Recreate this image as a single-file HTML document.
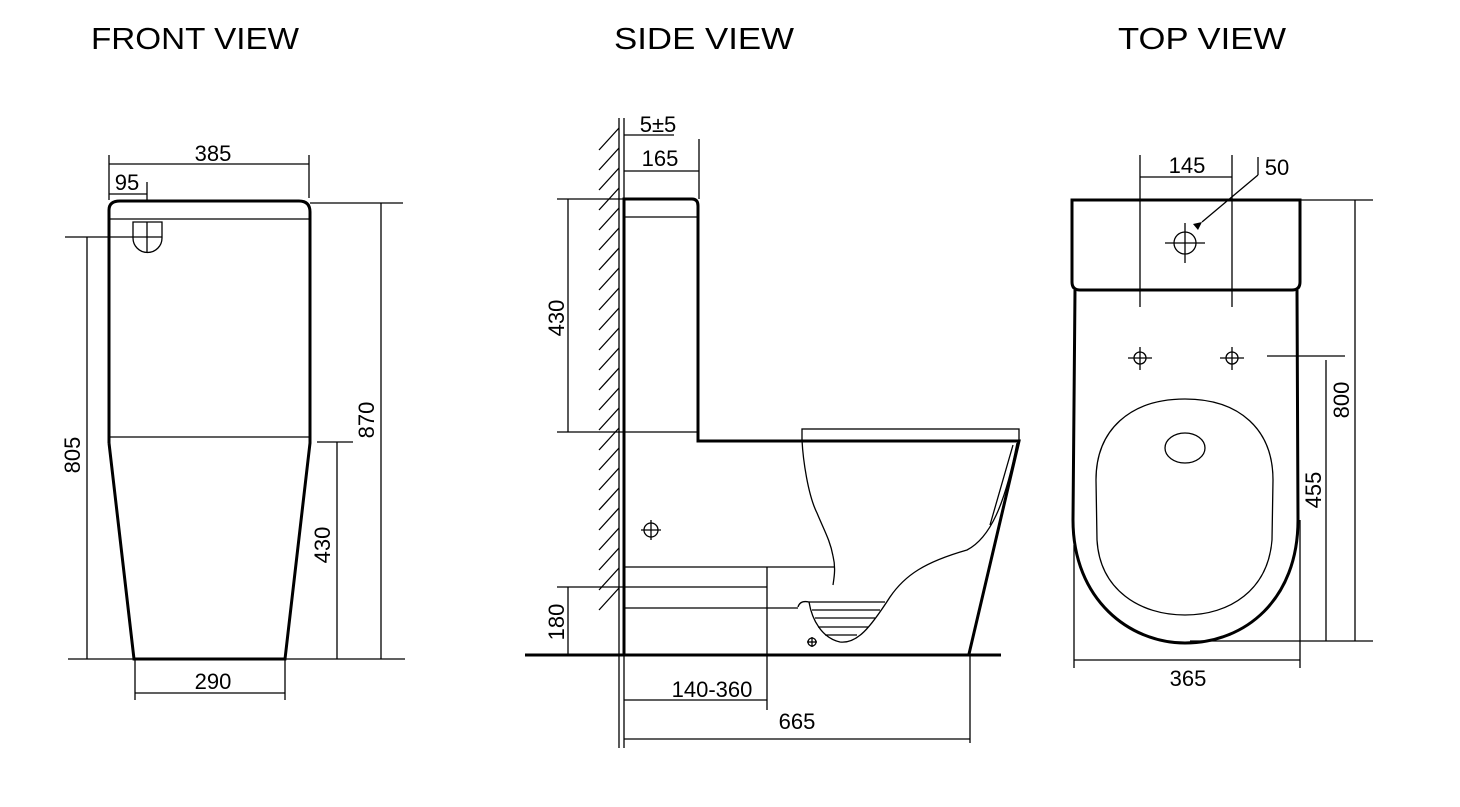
<!DOCTYPE html>
<html><head><meta charset="utf-8"><style>
html,body{margin:0;padding:0;background:#fff;}
svg{display:block;}
text{font-family:"Liberation Sans",Arial,sans-serif;fill:#000;}
.t{font-size:31px;}
.d{font-size:22px;}
</style></head><body>
<svg width="1460" height="807" viewBox="0 0 1460 807" xmlns="http://www.w3.org/2000/svg">
<g fill="none" stroke="#000">
<text class="t" x="195" y="49" text-anchor="middle" stroke="none" textLength="208" lengthAdjust="spacingAndGlyphs">FRONT VIEW</text>
<text class="t" x="704" y="49" text-anchor="middle" stroke="none" textLength="180" lengthAdjust="spacingAndGlyphs">SIDE VIEW</text>
<text class="t" x="1202" y="49" text-anchor="middle" stroke="none" textLength="168" lengthAdjust="spacingAndGlyphs">TOP VIEW</text>

<!-- FRONT VIEW -->
<g stroke-width="1.3">
<line x1="109" y1="164" x2="309" y2="164"/>
<line x1="109" y1="155" x2="109" y2="200"/>
<line x1="309" y1="155" x2="309" y2="198"/>
<line x1="109" y1="194" x2="147" y2="194"/>
<line x1="147" y1="182" x2="147" y2="200"/>
<line x1="65" y1="237" x2="133" y2="237"/>
<line x1="87" y1="237" x2="87" y2="659"/>
<line x1="310" y1="203" x2="403" y2="203"/>
<line x1="381" y1="203" x2="381" y2="659"/>
<line x1="317" y1="442" x2="353" y2="442"/>
<line x1="337" y1="442" x2="337" y2="659"/>
<line x1="68" y1="659" x2="405" y2="659"/>
<line x1="135" y1="659" x2="135" y2="700"/>
<line x1="285" y1="659" x2="285" y2="700"/>
<line x1="135" y1="693" x2="285" y2="693"/>
<line x1="110" y1="219" x2="309" y2="219"/>
<line x1="110" y1="437" x2="309" y2="437"/>
<path d="M133 222 H162 V238 A14.5 14.5 0 0 1 133 238 Z"/>
<line x1="147" y1="222" x2="147" y2="253"/>
<line x1="133" y1="237" x2="162" y2="237"/>
</g>
<path d="M109 443 V210 Q109 201 120 201 H299 Q310 201 310 212 V443 L285 659 H134 L109 443" stroke-width="3"/>
<text class="d" x="213" y="161" text-anchor="middle" stroke="none">385</text>
<text class="d" x="127" y="190" text-anchor="middle" stroke="none">95</text>
<text class="d" x="213" y="689" text-anchor="middle" stroke="none">290</text>
<text class="d" transform="translate(80,455) rotate(-90)" text-anchor="middle" stroke="none">805</text>
<text class="d" transform="translate(374,420) rotate(-90)" text-anchor="middle" stroke="none">870</text>
<text class="d" transform="translate(330,545) rotate(-90)" text-anchor="middle" stroke="none">430</text>

<!-- SIDE VIEW -->
<g stroke-width="1.3">
<line x1="619" y1="118" x2="619" y2="748"/>
<path d="M599 150 L619 128 M599 170 L619 148 M599 190 L619 168 M599 210 L619 188 M599 230 L619 208 M599 250 L619 228 M599 270 L619 248 M599 290 L619 268 M599 310 L619 288 M599 330 L619 308 M599 350 L619 328 M599 370 L619 348 M599 390 L619 368 M599 410 L619 388 M599 430 L619 408 M599 450 L619 428 M599 470 L619 448 M599 490 L619 468 M599 510 L619 488 M599 530 L619 508 M599 550 L619 528 M599 570 L619 548 M599 590 L619 568 M599 610 L619 588"/>
<line x1="624" y1="135" x2="674" y2="135"/>
<line x1="624" y1="171" x2="699" y2="171"/>
<line x1="699" y1="139" x2="699" y2="199"/>
<line x1="557" y1="199" x2="624" y2="199"/>
<line x1="568" y1="199" x2="568" y2="432"/>
<line x1="557" y1="432" x2="698" y2="432"/>
<line x1="624" y1="217" x2="697" y2="217"/>
<rect x="802" y="429" width="217" height="12"/>
<line x1="1013" y1="445" x2="990" y2="525"/>
<path d="M802 440 C803 460 808 495 817 513 C824 530 830 540 833 556 C836 568 834 578 833 585"/>
<path d="M798 607 Q800 600 809 602 C812 620 822 638 840 642 C857 644 870 628 890 597 C905 575 925 562 967 550 C990 538 1005 505 1017 443"/>
<path d="M809 602 H885 M812 610 H880 M815 618 H875 M818 627 H868 M825 635 H857"/>
<line x1="624" y1="567" x2="835" y2="567"/>
<line x1="767" y1="567" x2="767" y2="710"/>
<line x1="557" y1="587" x2="767" y2="587"/>
<line x1="624" y1="608" x2="798" y2="608"/>
<line x1="568" y1="587" x2="568" y2="655"/>
<circle cx="651" cy="530" r="7"/>
<line x1="641" y1="530" x2="661" y2="530"/><line x1="651" y1="520" x2="651" y2="540"/>
<circle cx="812" cy="642" r="4"/>
<line x1="807" y1="642" x2="817" y2="642"/><line x1="812" y1="637" x2="812" y2="647"/>
<line x1="624" y1="700" x2="767" y2="700"/>
<line x1="624" y1="739" x2="970" y2="739"/>
<line x1="970" y1="655" x2="970" y2="743"/>
<line x1="624" y1="118" x2="624" y2="199"/>
<line x1="624" y1="655" x2="624" y2="748"/>
</g>
<path d="M624 655 V199 H692 Q698 199 698 206 V441 H1019 L969 654" stroke-width="3"/>
<line x1="525" y1="655" x2="1001" y2="655" stroke-width="3"/>
<text class="d" x="658" y="132" text-anchor="middle" stroke="none">5±5</text>
<text class="d" x="660" y="166" text-anchor="middle" stroke="none">165</text>
<text class="d" x="712" y="697" text-anchor="middle" stroke="none">140-360</text>
<text class="d" x="797" y="729" text-anchor="middle" stroke="none">665</text>
<text class="d" transform="translate(564,318) rotate(-90)" text-anchor="middle" stroke="none">430</text>
<text class="d" transform="translate(564,622) rotate(-90)" text-anchor="middle" stroke="none">180</text>

<!-- TOP VIEW -->
<g stroke-width="1.3">
<line x1="1140" y1="177" x2="1232" y2="177"/>
<line x1="1140" y1="155" x2="1140" y2="307"/>
<line x1="1232" y1="155" x2="1232" y2="307"/>
<line x1="1258" y1="157" x2="1258" y2="175"/>
<line x1="1258" y1="175" x2="1202" y2="222"/>
<circle cx="1185" cy="243" r="11"/>
<line x1="1165" y1="243" x2="1205" y2="243"/><line x1="1185" y1="223" x2="1185" y2="263"/>
<circle cx="1140" cy="358" r="6"/><line x1="1128" y1="358" x2="1152" y2="358"/><line x1="1140" y1="347" x2="1140" y2="370"/>
<circle cx="1232" cy="358" r="6"/><line x1="1220" y1="358" x2="1244" y2="358"/><line x1="1232" y1="347" x2="1232" y2="370"/>
<line x1="1267" y1="356" x2="1345" y2="356"/>
<line x1="1326" y1="360" x2="1326" y2="641"/>
<line x1="1287" y1="200" x2="1373" y2="200"/>
<line x1="1355" y1="200" x2="1355" y2="641"/>
<line x1="1190" y1="641" x2="1373" y2="641"/>
<path d="M1185 399 C1240 399 1273 430 1273 480 L1272 540 C1268 590 1230 615 1185 615 C1140 615 1100 590 1097 540 L1096 480 C1096 430 1130 399 1185 399 Z"/>
<ellipse cx="1185" cy="448" rx="20" ry="15"/>
<line x1="1074" y1="660" x2="1300" y2="660"/>
<line x1="1074" y1="545" x2="1074" y2="668"/>
<line x1="1300" y1="520" x2="1300" y2="668"/>
</g>
<path d="M1202 222 L1193 224 L1198 230 Z" fill="#000" stroke="none"/>
<path d="M1072 200 H1300 V282 Q1300 290 1292 290 H1080 Q1072 290 1072 282 Z" stroke-width="3"/>
<path d="M1075 290 L1073 520 C1073 600 1130 643 1185 643 C1245 643 1298 600 1298 520 L1297 290" stroke-width="3"/>
<text class="d" x="1187" y="173" text-anchor="middle" stroke="none">145</text>
<text class="d" x="1277" y="175" text-anchor="middle" stroke="none">50</text>
<text class="d" x="1188" y="686" text-anchor="middle" stroke="none">365</text>
<text class="d" transform="translate(1349,400) rotate(-90)" text-anchor="middle" stroke="none">800</text>
<text class="d" transform="translate(1321,490) rotate(-90)" text-anchor="middle" stroke="none">455</text>
</g>
</svg>
</body></html>
